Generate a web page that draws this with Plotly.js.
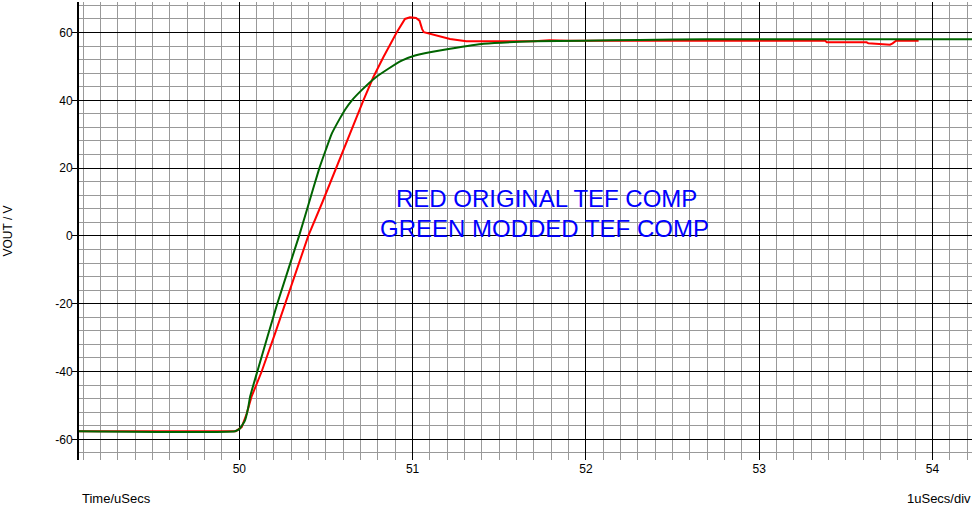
<!DOCTYPE html>
<html>
<head>
<meta charset="utf-8">
<script src="https://cdn.plot.ly/plotly-3.0.1.min.js"></script>
<style>html,body{margin:0;padding:0;background:#fff;}#chart{width:975px;height:509px;}</style>
</head>
<body>
<div id="chart"></div>
<script>
// Time in microseconds, VOUT in volts
const redTime = [49.075, 49.98, 50.014, 50.043, 50.07, 50.129, 50.206, 50.264, 50.398, 50.48, 50.558, 50.716, 50.773, 50.831, 50.908, 50.956, 50.985, 51.02, 51.04, 51.055, 51.065, 51.14, 51.216, 51.31, 51.70, 51.79, 51.9, 52.33, 53.38, 53.39, 53.62, 53.63, 53.68, 53.70, 53.755, 53.77, 53.79, 53.92];
const redVout = [-57.6, -57.6, -56.4, -52.4, -47.5, -40.0, -28.8, -20.0, 0.0, 10.0, 20.0, 40.0, 46.8, 52.7, 60.0, 64.0, 64.5, 64.3, 63.5, 61.0, 60.1, 59.1, 58.1, 57.4, 57.4, 57.7, 57.6, 57.6, 57.6, 57.1, 57.1, 56.8, 56.6, 56.4, 56.4, 56.8, 57.6, 57.6];

const greenTime = [49.075, 49.975, 50.004, 50.033, 50.052, 50.062, 50.104, 50.219, 50.345, 50.389, 50.462, 50.50, 50.533, 50.58, 50.615, 50.65, 50.706, 50.783, 50.86, 50.937, 51.014, 51.07, 51.216, 51.41, 51.70, 51.985, 52.31, 52.7, 54.228];
const greenVout = [-57.6, -57.6, -56.8, -54.4, -50.5, -47.5, -40.0, -20.0, 0.0, 7.5, 20.0, 25.5, 30.1, 34.6, 37.6, 40.0, 43.0, 46.6, 49.3, 51.7, 53.2, 53.9, 55.2, 56.7, 57.4, 57.6, 57.8, 58.0, 58.0];

const xTickVals = [50, 51, 52, 53, 54];
const xTickText = ['50', '51', '52', '53', '54'];
const yTickVals = [-60, -40, -20, 0, 20, 40, 60];
const yTickText = ['-60', '-40', '-20', '0', '20', '40', '60'];

const noteLines = ['RED ORIGINAL TEF COMP', 'GREEN MODDED TEF COMP'];
const xAxisLabel = 'Time/uSecs';
const scaleLabel = '1uSecs/div';
const yAxisLabel = 'VOUT / V';

const FONT = 'Arial, "Liberation Sans", sans-serif';

const traces = [
  {x: redTime, y: redVout, type: 'scatter', mode: 'lines', line: {color: '#ff0000', width: 2}, hoverinfo: 'skip'},
  {x: greenTime, y: greenVout, type: 'scatter', mode: 'lines', line: {color: '#006400', width: 2, shape: 'spline', smoothing: 0.4}, hoverinfo: 'skip'}
];

const layout = {
  width: 975, height: 509,
  margin: {l: 79, r: 3, t: 2, b: 49, pad: 0},
  paper_bgcolor: '#ffffff', plot_bgcolor: '#ffffff',
  showlegend: false,
  font: {family: FONT, size: 12, color: '#000'},
  xaxis: {
    range: [49.075, 54.228],
    tickmode: 'array', tickvals: xTickVals, ticktext: xTickText,
    ticks: '', showline: false, zeroline: false,
    showgrid: true, gridcolor: '#000000', gridwidth: 1,
    minor: {tickmode: 'linear', tick0: 0, dtick: 0.1, showgrid: true, gridcolor: '#999999', gridwidth: 1, ticks: ''},
    tickfont: {family: FONT, size: 12, color: '#000'},
    fixedrange: true
  },
  yaxis: {
    range: [-66.1, 69.0],
    tickmode: 'array', tickvals: yTickVals, ticktext: yTickText,
    ticks: 'outside', ticklen: 5, tickwidth: 1, tickcolor: '#000',
    ticklabelstandoff: -3,
    showline: true, linecolor: '#000', linewidth: 2, zeroline: false,
    showgrid: true, gridcolor: '#000000', gridwidth: 1,
    minor: {tickmode: 'linear', tick0: 0, dtick: 4, showgrid: true, gridcolor: '#999999', gridwidth: 1, ticks: ''},
    tickfont: {family: FONT, size: 12, color: '#000'},
    fixedrange: true
  },
  annotations: [
    {text: noteLines[0], xref: 'paper', yref: 'paper', x: (546 - 79) / 893, y: 1 - (198.5 - 2) / 458, xanchor: 'center', yanchor: 'middle', showarrow: false, font: {family: FONT, size: 24, color: '#0000ff'}},
    {text: noteLines[1], xref: 'paper', yref: 'paper', x: (544 - 79) / 893, y: 1 - (228.5 - 2) / 458, xanchor: 'center', yanchor: 'middle', showarrow: false, font: {family: FONT, size: 24, color: '#0000ff'}},
    {text: xAxisLabel, xref: 'paper', yref: 'paper', x: (80 - 79) / 893, y: 1 - (498 - 2) / 458, xanchor: 'left', yanchor: 'middle', showarrow: false, font: {family: FONT, size: 13, color: '#000'}},
    {text: scaleLabel, xref: 'paper', yref: 'paper', x: (973 - 79) / 893, y: 1 - (498 - 2) / 458, xanchor: 'right', yanchor: 'middle', showarrow: false, font: {family: FONT, size: 13, color: '#000'}},
    {text: yAxisLabel, xref: 'paper', yref: 'paper', x: (7.5 - 79) / 893, y: 1 - (231 - 2) / 458, xanchor: 'center', yanchor: 'middle', textangle: -90, showarrow: false, font: {family: FONT, size: 12, color: '#000'}}
  ]
};

Plotly.newPlot('chart', traces, layout, {displayModeBar: false, staticPlot: true});
</script>
</body>
</html>
